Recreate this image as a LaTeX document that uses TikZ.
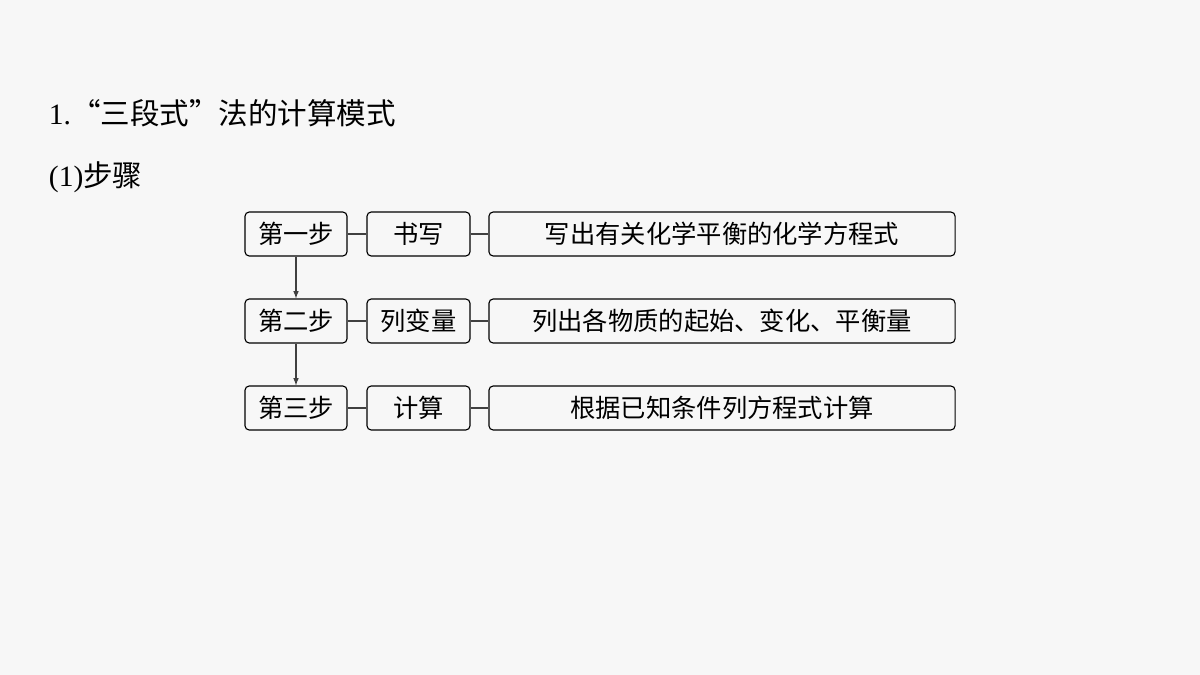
\documentclass[tikz,border=0pt]{standalone}
\usepackage{fontspec}
\newfontfamily\cjk{Noto Sans CJK SC}
\setmainfont{Liberation Serif}
\usetikzlibrary{arrows.meta}
\tikzset{>=latex}
\tikzset{
  stepbox/.style = {draw, rounded corners = 3pt, thick, minimum height = 1.1cm, inner sep = 0pt, font = {\cjk\fontsize{18pt}{20pt}\selectfont}},
  link/.style = {draw = black!75, thick},
}
\begin{document}
\begin{tikzpicture}[x = 0.025cm, y = -0.025cm]
\fill[white!97!black] (0,0) rectangle (1200,675);

\node[anchor = west, font = {\fontsize{21pt}{24pt}\selectfont}] (T1) at (44,113) {1.{\cjk “三段式”法的计算模式}};
\node[anchor = west, font = {\fontsize{21pt}{24pt}\selectfont}] (T2) at (44,177) {(1){\cjk 步骤}};

\foreach \r/\y/\a/\b/\c in {1/234/第一步/书写/写出有关化学平衡的化学方程式,
                            2/321/第二步/列变量/列出各物质的起始、变化、平衡量,
                            3/408/第三步/计算/根据已知条件列方程式计算}{
  \node[stepbox, minimum width = 2.55cm] (S\r) at (296,\y) {\a};
  \node[stepbox, minimum width = 2.575cm] (K\r) at (418.5,\y) {\b};
  \node[stepbox, minimum width = 11.65cm] (D\r) at (722,\y) {\c};
  \draw[link] (S\r) -- (K\r);
  \draw[link] (K\r) -- (D\r);
}

\draw[link, ->] (S1) -- (S2);
\draw[link, ->] (S2) -- (S3);
\end{tikzpicture}
\end{document}
